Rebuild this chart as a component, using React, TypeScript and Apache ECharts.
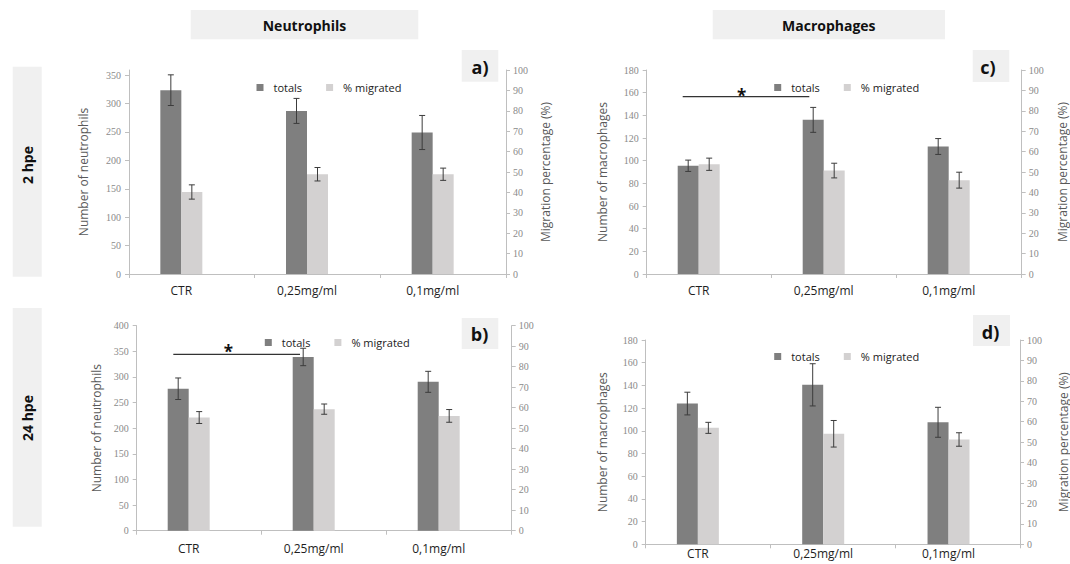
import { useEffect, useRef } from "react";
import * as echarts from "echarts";

// ---------- data ----------
const categories = ["CTR", "0,25mg/ml", "0,1mg/ml"];
const legendNames = ["totals", "% migrated"];

// a) Neutrophils, 2 hpe
const totalsA = [323.5, 287, 249];
const totalsErrA = [27, 22, 30];
const pctA = [40.2, 48.9, 48.9];
const pctErrA = [3.5, 3.3, 3];

// b) Neutrophils, 24 hpe
const totalsB = [277, 339, 290.5];
const totalsErrB = [21, 17, 20.5];
const pctB = [55.2, 59.3, 56];
const pctErrB = [2.9, 2.5, 3.1];

// c) Macrophages, 2 hpe
const totalsC = [95.5, 136, 112.5];
const totalsErrC = [5, 11, 7];
const pctC = [53.8, 50.7, 46];
const pctErrC = [3, 3.6, 3.9];

// d) Macrophages, 24 hpe
const totalsD = [124, 140.5, 107.5];
const totalsErrD = [10, 18.6, 13.2];
const pctD = [57, 54.1, 51.3];
const pctErrD = [2.7, 6.5, 3.3];

const neutroTicksA = [0, 50, 100, 150, 200, 250, 300, 350];
const neutroTicksB = [0, 50, 100, 150, 200, 250, 300, 350, 400];
const macroTicks = [0, 20, 40, 60, 80, 100, 120, 140, 160, 180];
const pctTicks = [0, 10, 20, 30, 40, 50, 60, 70, 80, 90, 100];

const columnTitles = ["Neutrophils", "Macrophages"];
const rowTitles = ["2 hpe", "24 hpe"];
const panelLetters = ["a)", "b)", "c)", "d)"];
const leftNames = ["Number of neutrophils", "Number of macrophages"];
const rightName = "Migration percentage (%)";

// ---------- style ----------
const DARK = "#7f7f7f";
const LIGHT = "#d3d1d1";
const AXIS = "#bfbfbf";
const BOXFILL = "#f0f0f0";
const FONT = "Open Sans";

const panels = [
  {
    totals: totalsA, totalsErr: totalsErrA, pct: pctA, pctErr: pctErrA,
    leftMax: 359, leftTicks: neutroTicksA, leftName: leftNames[0],
    grid: { left: 129, top: 70, width: 377, height: 204 },
    leftGap: 40, rightGap: 33, labelMargin: 10, legend: { left: 251.5, top: 77 },
  },
  {
    totals: totalsB, totalsErr: totalsErrB, pct: pctB, pctErr: pctErrB,
    leftMax: 400, leftTicks: neutroTicksB, leftName: leftNames[0],
    grid: { left: 136.7, top: 325.7, width: 375, height: 205 },
    leftGap: 34, rightGap: 38, labelMargin: 12, legend: { left: 259.8, top: 332 },
  },
  {
    totals: totalsC, totalsErr: totalsErrC, pct: pctC, pctErr: pctErrC,
    leftMax: 180, leftTicks: macroTicks, leftName: leftNames[1],
    grid: { left: 646.7, top: 70, width: 375, height: 204 },
    leftGap: 38, rightGap: 35, labelMargin: 10, legend: { left: 769.2, top: 77 },
  },
  {
    totals: totalsD, totalsErr: totalsErrD, pct: pctD, pctErr: pctErrD,
    leftMax: 180, leftTicks: macroTicks, leftName: leftNames[1],
    grid: { left: 645.7, top: 340, width: 376, height: 204.3 },
    leftGap: 37, rightGap: 37, labelMargin: 3, legend: { left: 769.2, top: 346 },
  },
];

const BAR_W = 21;
const SHIFT = 10.5;

function errRender(offset: number) {
  return (_params: any, api: any) => {
    const x = api.value(0);
    const lo = api.coord([x, api.value(1)]);
    const hi = api.coord([x, api.value(2)]);
    const cx = lo[0] + offset;
    const style = { stroke: "#3c3c3c", lineWidth: 1 };
    return {
      type: "group",
      children: [
        { type: "line", shape: { x1: cx, y1: lo[1], x2: cx, y2: hi[1] }, style },
        { type: "line", shape: { x1: cx - 3, y1: hi[1], x2: cx + 3, y2: hi[1] }, style },
        { type: "line", shape: { x1: cx - 3, y1: lo[1], x2: cx + 3, y2: lo[1] }, style },
      ],
    };
  };
}

function buildOption() {
  const grid: any[] = [];
  const xAxis: any[] = [];
  const yAxis: any[] = [];
  const series: any[] = [];
  const legend: any[] = [];

  panels.forEach((p, i) => {
    const g = p.grid;
    // visible axes grid
    grid.push({ left: g.left, top: g.top, width: g.width, height: g.height });
    // bar grid (shifted left)
    grid.push({ left: g.left - SHIFT, top: g.top, width: g.width, height: g.height });

    xAxis.push({
      type: "category", gridIndex: 2 * i, data: categories,
      axisLine: { lineStyle: { color: AXIS, width: 1 } },
      axisTick: { show: true, length: 4, lineStyle: { color: AXIS } },
      axisLabel: { show: false },
    });
    xAxis.push({
      type: "category", gridIndex: 2 * i + 1, data: categories,
      axisLine: { show: false }, axisTick: { show: false },
      axisLabel: { margin: p.labelMargin, fontFamily: FONT, fontSize: 12, color: "#1e1e1e" },
    });

    const tickLabel = { fontFamily: "Liberation Serif", fontSize: 10, color: "#8a8a8a" };
    const nameStyle = { fontFamily: FONT, fontSize: 12, color: "#595959" };
    yAxis.push({
      type: "value", gridIndex: 2 * i, position: "left", min: 0, max: p.leftMax,
      name: p.leftName, nameLocation: "middle", nameRotate: 90, nameGap: p.leftGap,
      nameTextStyle: nameStyle,
      axisLine: { show: true, lineStyle: { color: AXIS } },
      axisTick: { show: true, length: 4, lineStyle: { color: AXIS }, customValues: p.leftTicks },
      axisLabel: { ...tickLabel, margin: 8, customValues: p.leftTicks },
      splitLine: { show: false },
    });
    yAxis.push({
      type: "value", gridIndex: 2 * i, position: "right", min: 0, max: 100,
      name: rightName, nameLocation: "middle", nameRotate: 90, nameGap: p.rightGap,
      nameTextStyle: nameStyle,
      axisLine: { show: true, lineStyle: { color: AXIS } },
      axisTick: { show: true, length: 4, lineStyle: { color: AXIS }, customValues: pctTicks },
      axisLabel: { ...tickLabel, margin: 7, customValues: pctTicks },
      splitLine: { show: false },
    });
    yAxis.push({ type: "value", gridIndex: 2 * i + 1, min: 0, max: p.leftMax, show: false });
    yAxis.push({ type: "value", gridIndex: 2 * i + 1, min: 0, max: 100, show: false });

    series.push({
      type: "bar", name: legendNames[0], xAxisIndex: 2 * i + 1, yAxisIndex: 4 * i + 2,
      data: p.totals, barWidth: BAR_W, barGap: "0%", itemStyle: { color: DARK },
    });
    series.push({
      type: "bar", name: legendNames[1], xAxisIndex: 2 * i + 1, yAxisIndex: 4 * i + 3,
      data: p.pct, barWidth: BAR_W, barGap: "0%", itemStyle: { color: LIGHT },
    });
    series.push({
      type: "custom", name: "err-totals-" + i, xAxisIndex: 2 * i + 1, yAxisIndex: 4 * i + 2,
      renderItem: errRender(-BAR_W / 2), z: 5,
      encode: { x: 0, y: [1, 2] },
      data: p.totals.map((v, k) => [k, v - p.totalsErr[k], v + p.totalsErr[k]]),
    });
    series.push({
      type: "custom", name: "err-pct-" + i, xAxisIndex: 2 * i + 1, yAxisIndex: 4 * i + 3,
      renderItem: errRender(BAR_W / 2), z: 5,
      encode: { x: 0, y: [1, 2] },
      data: p.pct.map((v, k) => [k, v - p.pctErr[k], v + p.pctErr[k]]),
    });

    legend.push({
      data: legendNames, left: p.legend.left, top: p.legend.top, orient: "horizontal",
      icon: "rect", itemWidth: 7, itemHeight: 7, itemGap: 24, selectedMode: false,
      textStyle: { fontFamily: FONT, fontSize: 11, color: "#222", padding: [0, 0, 0, 5] },
    });
  });

  const boxText = (x: number, y: number, text: string, size: number, rot = 0) => ({
    type: "text", x, y, rotation: rot, z: 20,
    style: { text, fontFamily: FONT, fontSize: size, fontWeight: "bold", fill: "#111", textAlign: "center", textVerticalAlign: "middle" },
  });
  const box = (x: number, y: number, w: number, h: number) => ({
    type: "rect", shape: { x, y, width: w, height: h }, style: { fill: BOXFILL }, z: 1,
  });

  const graphic: any[] = [
    box(190.7, 10, 227.6, 29.3), boxText(304.5, 25, columnTitles[0], 14),
    box(712.7, 10, 232.3, 29.3), boxText(828.8, 25, columnTitles[1], 14),
    box(12.7, 66.7, 29, 210), boxText(27.2, 165, rowTitles[0], 14, Math.PI / 2),
    box(12.7, 308, 29, 218.7), boxText(27.2, 418, rowTitles[1], 14, Math.PI / 2),
    box(461.7, 50, 36.6, 31.7), boxText(480, 66.5, panelLetters[0], 18),
    box(461.7, 318, 36.6, 31), boxText(479.5, 334, panelLetters[1], 18),
    box(972.7, 50, 36.6, 32), boxText(988, 66.5, panelLetters[2], 18),
    box(973, 315, 37, 31), boxText(990.5, 331.5, panelLetters[3], 18),
    // significance marks
    { type: "line", shape: { x1: 173.3, y1: 354.3, x2: 300, y2: 354.3 }, style: { stroke: "#333", lineWidth: 1.2 }, z: 20 },
    { type: "text", x: 228.3, y: 351, z: 20, style: { text: "*", fontFamily: FONT, fontSize: 17, fontWeight: "bold", fill: "#111", textAlign: "center", textVerticalAlign: "middle" } },
    { type: "line", shape: { x1: 682.7, y1: 96.7, x2: 809.3, y2: 96.7 }, style: { stroke: "#333", lineWidth: 1.2 }, z: 20 },
    { type: "text", x: 741.7, y: 95.5, z: 20, style: { text: "*", fontFamily: FONT, fontSize: 17, fontWeight: "bold", fill: "#111", textAlign: "center", textVerticalAlign: "middle" } },
    // panel b's right-axis title is cropped in the original figure
    { type: "rect", shape: { x: 549.5, y: 330, width: 40, height: 215 }, style: { fill: "#ffffff" }, z: 100 },
  ];

  return {
    animation: false,
    backgroundColor: "#ffffff",
    grid, xAxis, yAxis, series, legend, graphic,
  };
}

export default function App() {
  const ref = useRef<HTMLDivElement>(null);
  useEffect(() => {
    if (!ref.current) return;
    const chart = echarts.init(ref.current, null, { renderer: "svg" });
    chart.setOption(buildOption() as any);
    return () => chart.dispose();
  }, []);
  return (
    <div
      ref={ref}
      style={{ position: "fixed", left: 0, top: 0, width: 1070, height: 564, background: "#fff" }}
    />
  );
}
